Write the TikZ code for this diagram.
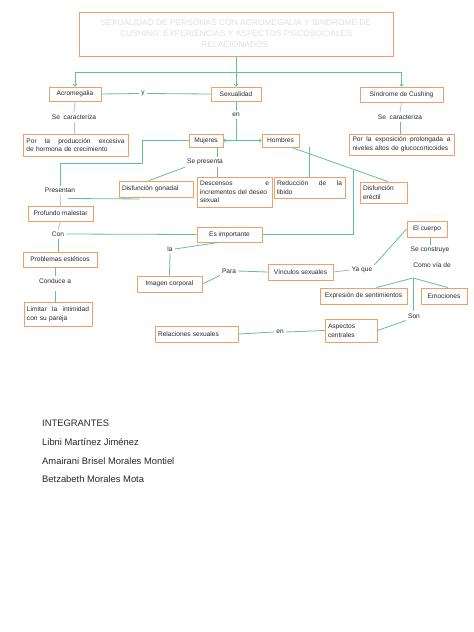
\documentclass[tikz,border=0pt]{standalone}
\usepackage{fontspec}
\setmainfont{Liberation Sans}
\usetikzlibrary{arrows.meta,calc}
\definecolor{boxor}{RGB}{240,160,100}
\definecolor{conng}{RGB}{95,195,150}
\definecolor{txtc}{RGB}{40,40,40}
\definecolor{titc}{RGB}{225,225,225}
\definecolor{dashg}{RGB}{185,195,200}
\begin{document}
\begin{tikzpicture}[x=1pt,y=-1pt,
  bx/.style={draw=boxor,line width=0.9pt,text=txtc,font=\fontsize{6.6}{8.6}\selectfont,inner sep=3pt,anchor=center},
  lbl/.style={text=txtc,font=\fontsize{6.6}{8}\selectfont,inner sep=2pt},
  conn/.style={draw=conng,line width=0.8pt},
  gconn/.style={draw=dashg,line width=0.8pt},
  arr/.style={conn,-{To[length=2.5pt,width=4pt]}},
  names/.style={text=txtc,font=\fontsize{9.4}{11}\selectfont,anchor=west,inner sep=0pt}]
\useasboundingbox[fill=white] (0,0) rectangle (474,632);

% title
\node[bx,minimum width=314pt,minimum height=44pt,text=titc,font=\fontsize{8.4}{11}\selectfont,align=center] (title) at (236,34)
 {SEXUALIDAD DE PERSONAS CON ACROMEGALIA Y SINDROME DE\\CUSHING: EXPERIENCIAS Y ASPECTOS PSICOSOCIALES\\RELACIONADOS.};

% boxes
\node[bx,minimum width=52pt,minimum height=14pt] (acro) at (75,94) {Acromegalia};
\node[bx,minimum width=50pt,minimum height=14pt] (sex) at (236,94) {Sexualidad};
\node[bx,minimum width=83pt,minimum height=15pt] (cush) at (401.5,94.5) {Síndrome de Cushing};
\node[bx,minimum width=105pt,minimum height=22pt,text width=98pt,align=left] (prod) at (75.5,145) {Por\hfill la\hfill producción\hfill excesiva\\de hormona de crecimiento};
\node[bx,minimum width=105pt,minimum height=21pt,text width=98pt,align=left] (expo) at (401.5,144.5) {Por\hfill la\hfill exposición\hfill prolongada\hfill a\\niveles altos de glucocorticoides};
\node[bx,minimum width=34pt,minimum height=13pt] (muj) at (206,140.5) {Mujeres};
\node[bx,minimum width=37pt,minimum height=13pt] (hom) at (280.5,140.5) {Hombres};
\node[bx,minimum width=74pt,minimum height=16pt,text width=68pt,align=left] (gonad) at (156,189) {Disfunción gonadal};
\node[bx,minimum width=75pt,minimum height=30pt,text width=69pt,align=left] (desc) at (234.5,192) {Descensos\hfill e\\incrementos del deseo\\sexual};
\node[bx,minimum width=71pt,minimum height=21pt,text width=65pt,align=left] (reduc) at (309.5,187.5) {Reducción\hfill de\hfill la\\libido};
\node[bx,minimum width=47pt,minimum height=21pt,text width=41pt,align=left] (erec) at (383.5,192.5) {Disfunción\\eréctil};
\node[bx,minimum width=65pt,minimum height=15pt] (prof) at (60.5,213.5) {Profundo malestar};
\node[bx,minimum width=65pt,minimum height=15pt] (esimp) at (229.5,234.5) {Es importante};
\node[bx,minimum width=74pt,minimum height=15pt] (probl) at (60,259.5) {Problemas estéticos};
\node[bx,minimum width=65pt,minimum height=16pt] (imag) at (169.5,284) {Imagen corporal};
\node[bx,minimum width=65pt,minimum height=16pt] (vinc) at (300.5,272) {Vínculos sexuales};
\node[bx,minimum width=40pt,minimum height=16pt] (cuerpo) at (427,229) {El cuerpo};
\node[bx,minimum width=87pt,minimum height=16pt] (expr) at (363.5,296) {Expresión de sentimientos};
\node[bx,minimum width=46pt,minimum height=16pt] (emoc) at (444,296) {Emociones};
\node[bx,minimum width=68pt,minimum height=24pt,text width=62pt,align=left] (limit) at (58,314) {Limitar\hfill la\hfill intimidad\\con su pareja};
\node[bx,minimum width=52pt,minimum height=23pt,text width=46pt,align=left] (aspec) at (351,330.5) {Aspectos\\centrales};
\node[bx,minimum width=83pt,minimum height=16pt,text width=77pt,align=left] (relac) at (196.5,334) {Relaciones sexuales};

% labels
\node[lbl] (ylb) at (143,93.5) {y};
\node[lbl] (en1) at (236,115) {en};
\node[lbl] (secL) at (74,117) {Se\ \ caracteriza};
\node[lbl] (secR) at (400,117) {Se\ \ caracteriza};
\node[lbl] (sepres) at (205,162) {Se presenta};
\node[lbl] (pres) at (60,190) {Presentan};
\node[lbl] (con) at (58,234) {Con};
\node[lbl] (cond) at (55,281) {Conduce a};
\node[lbl] (la) at (170,249) {la};
\node[lbl] (para) at (229,271) {Para};
\node[lbl] (yaque) at (362,270) {Ya que};
\node[lbl] (secons) at (430,250) {Se construye};
\node[lbl] (como) at (432,265) {Como vía de};
\node[lbl] (son) at (414,316) {Son};
\node[lbl] (en2) at (280,332) {en};

% coordinates
\coordinate (hl) at (75,72);
\coordinate (hr) at (401.5,72);
\coordinate (mx) at (217,0);
\coordinate (cj) at (413,278);
\coordinate (br) at (353,169);

% top tree
\draw[conn] (title.south) -- (title.south |- hl);
\draw[conn] (hl) -- (hr);
\draw[arr] (hl) -- (acro.north);
\draw[arr] (title.south |- hl) -- (sex.north);
\draw[arr] (hr) -- (cush.north);
\draw[conn] (acro.east) -- (ylb.west);
\draw[conn] (ylb.east) -- (sex.west);
\draw[gconn] (acro.south) -- (secL.north);
\draw[gconn] (secL.south) -- (prod.north -| secL.south);
\draw[gconn] (cush.south) -- (secR.north);
\draw[conn] (secR.south) -- (expo.north -| secR.south);
\draw[conn] (sex.south) -- (en1.north);
\draw[conn] (en1.south) -- (en1.south |- muj.east);
\draw[arr] (en1.south |- muj.east) -- (muj.east);
\draw[arr] (en1.south |- muj.east) -- (hom.west);

% mujeres
\draw[conn] (muj.west) -- (142,140.5) -- (142,163) -- (60,163) -- (pres.north);
\draw[conn] (muj.south -| mx) -- (sepres.north -| mx);
\draw[conn] (sepres.south -| mx) -- (desc.north -| mx);
\draw[conn] (sepres.south west) -- ($(gonad.north)+(-7,0)$);
\draw[conn] ($(gonad.south west)+(21,1.5)$) -- ($(pres.south)+(8,4)$);
\draw[gconn] (pres.south) -- (prof.north);
\draw[gconn] (prof.south) -- (con.north);
\draw[conn] (con.east) -- (esimp.west);
\draw[conn] (con.south) -- (probl.north -| con.south);
\draw[conn] (probl.south -| cond.north) -- (cond.north);
\draw[conn] ($(cond.south)+(0,5)$) -- (limit.north -| cond.south);

% hombres
\draw[conn] (hom.south -| reduc.north) -- (reduc.north);
\draw[conn] ($(hom.south)+(11,0)$) -- ($(erec.north)+(4.5,0)$);
\draw[conn] (br) -- (br |- esimp.east) -- (esimp.east);

% lower middle
\draw[conn] ($(esimp.south)+(-11,0)$) -- (la.east);
\draw[conn] (la.south) -- (imag.north);
\draw[conn] (imag.east) -- (para.south west);
\draw[conn] (para.east) -- (vinc.west);
\draw[draw=dashg!80!blue,line width=0.6pt] (vinc.east) -- (yaque.west);
\draw[conn] (yaque.north east) -- (cuerpo.west);
\draw[conn] (cuerpo.south -| secons.north) -- (secons.north);
\draw[conn] (cj) -- ($(expr.north)+(13,0)$);
\draw[conn] (cj) -- ($(emoc.north)+(4,0)$);
\draw[conn] (cj) -- (son.north -| cj);
\draw[conn] (son.south west) -- (aspec.east);
\draw[conn] (relac.east) -- (en2.west);
\draw[conn] (en2.east) -- (aspec.west);

% integrantes
\node[names] (n0) at (42,423) {INTEGRANTES};
\node[names] (n1) at (42,442) {Libni Martínez Jiménez};
\node[names] (n2) at (42,461) {Amairani Brisel Morales Montiel};
\node[names] (n3) at (42,479.5) {Betzabeth Morales Mota};
\end{tikzpicture}
\end{document}
